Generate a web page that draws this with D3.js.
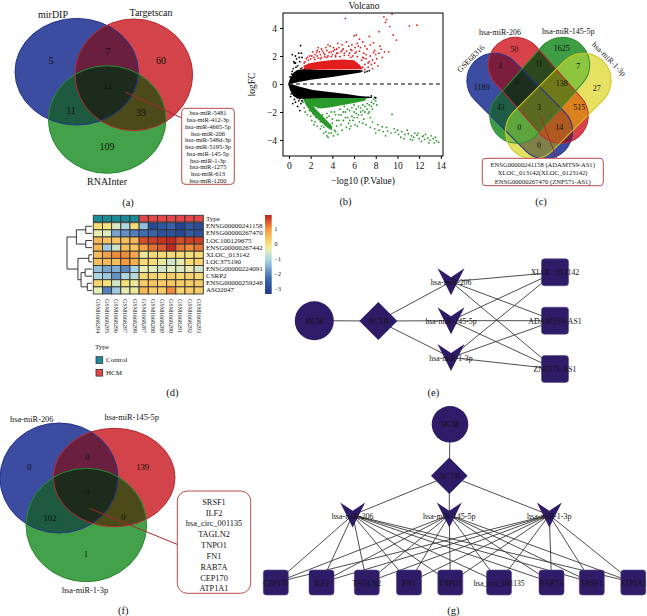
<!DOCTYPE html>
<html><head><meta charset="utf-8">
<script src="https://cdn.jsdelivr.net/npm/d3@7"></script>
<style>body{margin:0;background:#fff}svg{display:block;background:#fff}</style>
</head><body><svg id="c" width="647" height="616"></svg>
<script>
// ---------------- DATA ----------------
// (a) Venn
const vennA_labels = ["mirDIP","Targetscan","RNAInter"];
const vennA_regions = ["A","B","C","AB","BC","AC","ABC"];
const vennA_counts = [5,60,109,7,39,11,11];
const vennA_list = ["hsa-miR-5481","hsa-miR-412-3p","hsa-miR-4665-5p","hsa-miR-206","hsa-miR-548d-3p","hsa-miR-5195-3p","hsa-miR-145-5p","hsa-miR-1-3p","hsa-miR-1275","hsa-miR-613","hsa-miR-1200"];
// (b) Volcano: scattered points [-log10 P, logFC]
const volcanoRed = [[5.2,4.69],[8.75,4.8],[9.0,4.6],[9.5,5.0],[11.1,4.14],[11.8,4.2],[9.9,3.14],[8.3,3.74],[9.3,4.1],[6.0,3.43],[7.8,2.95],[8.5,2.48],[8.8,2.3],[2.55,2.26],[7.2,2.5],[7.5,2.8],[6.6,2.6],[6.3,2.9],[5.8,2.4],[5.5,2.7],[5.0,2.5],[4.6,2.6],[4.2,2.45],[3.9,2.3],[3.5,2.4],[3.2,2.2],[2.9,2.1],[2.6,2.0],[2.3,1.9],[2.0,1.8],[1.8,1.7],[1.5,1.6],[1.4,1.3],[6.9,2.2],[7.1,1.8],[7.4,1.6],[7.6,1.4],[7.3,1.2],[7.0,1.4],[6.8,1.9],[6.2,2.3],[5.6,2.2],[4.8,2.3],[4.4,2.2],[4.0,2.1],[3.6,2.0],[3.3,1.95],[3.0,1.9],[2.7,1.85],[8.0,2.1],[7.9,2.4],[4.5,2.9],[5.3,3.0],[3.8,2.7],[6.5,3.2],[3.0,2.5],[2.2,2.3],[1.9,2.0],[1.7,1.9],[5.9,1.3],[6.4,1.2],[7.7,1.1],[8.2,1.3],[8.4,2.7],[9.6,3.5],[8.9,4.4],[7.4,3.4],[6.8,3.0],[6.2,3.5],[9.2,2.3],[5.1,2.2],[4.1,2.6],[3.4,2.6],[2.4,2.1],[6.1,2.6],[7.0,2.7],[5.7,1.9],[4.3,1.95],[2.8,2.3],[1.6,1.2],[3.7,1.5],[5.4,1.6],
 [2.1,2.0],[2.4,1.75],[2.6,2.4],[2.9,1.8],[3.1,2.35],[3.3,2.1],[3.5,1.9],[3.7,2.25],[3.9,1.95],[4.1,2.35],[4.3,2.05],[4.5,2.2],[4.7,1.95],[4.9,2.4],[5.1,2.05],[5.3,2.35],[5.5,2.05],[5.7,2.45],[5.9,2.0],[6.1,2.2],[6.3,1.95],[6.5,2.35],[6.7,1.7],[6.9,1.85],[7.1,2.1],[7.3,1.5],[7.5,2.0],[7.7,1.7],[7.9,1.5],[8.1,1.8],[8.3,2.2],[8.6,1.9],[2.0,1.1],[2.5,1.15],[3.2,1.1],[4.6,1.1],[5.6,1.15],[6.8,1.2],[7.0,1.05],[1.4,1.5],[1.6,1.8],[1.8,1.4],[1.2,1.15],[3.6,2.8],[4.9,2.8],[5.8,2.8],[2.7,2.6],[7.8,2.25],[6.4,2.7],[4.4,2.5]];
const volcanoGreen = [[1.3,-1.3],[1.5,-2.0],[1.7,-2.2],[1.9,-1.9],[2.1,-2.6],[2.4,-2.7],[2.6,-2.2],[2.8,-2.5],[3.0,-3.0],[3.2,-3.1],[3.4,-3.4],[3.7,-3.5],[3.9,-3.5],[4.2,-3.3],[4.4,-3.0],[4.6,-2.6],[4.8,-2.2],[5.0,-2.6],[5.2,-2.0],[5.4,-2.4],[5.6,-1.9],[5.8,-2.3],[6.0,-2.0],[6.2,-1.8],[6.4,-2.2],[6.6,-1.7],[6.8,-1.9],[7.0,-1.6],[7.2,-1.8],[7.4,-1.5],[7.6,-1.3],[7.8,-1.4],[8.0,-1.2],[7.3,-2.1],[6.9,-2.5],[6.5,-2.7],[6.1,-2.9],[5.7,-3.0],[5.3,-3.1],[4.9,-3.3],[4.5,-3.6],[4.1,-3.7],[3.5,-3.7],[2.9,-3.2],[2.3,-2.9],[4.7,-1.8],[4.3,-2.2],[3.9,-2.0],[3.5,-2.4],[3.1,-2.2],[2.7,-1.7],[2.0,-2.3],[5.9,-2.6],[6.3,-2.4],[7.5,-2.4],[7.1,-2.9],[9.5,-2.17],[8.6,-3.05],[7.5,-3.1],[7.9,-3.2],[8.3,-3.3],[8.7,-3.4],[9.1,-3.35],[9.4,-3.5],[9.8,-3.45],[10.1,-3.6],[10.4,-3.4],[10.7,-3.6],[11.0,-3.55],[11.3,-3.7],[11.5,-3.8],[11.8,-3.65],[12.0,-3.9],[12.3,-3.75],[12.5,-3.95],[12.8,-3.85],[13.0,-4.0],[13.3,-3.9],[13.6,-4.05],[13.8,-4.15],[13.4,-4.2],[12.6,-3.6],[11.9,-3.5],[10.9,-3.3],[9.7,-3.2],[8.9,-3.7],[10.3,-3.8],[11.2,-3.95],[12.2,-4.1],[13.1,-3.7],[5.5,-2.8],[6.7,-2.2],[4.0,-2.8],[3.3,-2.7],[2.5,-2.0],[5.1,-1.6],[6.0,-1.5],[7.7,-1.8],
 [1.6,-1.3],[1.8,-1.6],[2.0,-1.9],[2.2,-2.1],[2.5,-2.4],[2.7,-2.1],[2.9,-2.7],[3.1,-2.5],[3.3,-2.9],[3.5,-2.1],[3.7,-2.3],[3.8,-2.9],[4.0,-2.5],[4.2,-2.0],[4.4,-2.6],[4.6,-2.2],[4.8,-2.9],[5.0,-2.0],[5.2,-2.4],[5.4,-1.8],[5.6,-2.6],[5.8,-1.7],[6.0,-2.4],[6.2,-2.1],[6.4,-1.6],[6.6,-2.0],[6.8,-1.5],[7.0,-2.0],[7.2,-1.4],[7.4,-2.0],[7.6,-1.6],[7.8,-1.1],[8.1,-1.5],[1.4,-1.7],[1.2,-1.2],[3.6,-3.8],[4.3,-3.4],[3.2,-3.5],[2.6,-3.0],[5.6,-3.2],[6.3,-3.0],[6.8,-2.8],[7.7,-2.7],[8.2,-2.9],[8.0,-3.5],[9.0,-3.1],[10.0,-3.3],[10.6,-3.9],[11.6,-3.5],[12.9,-4.2],[13.5,-3.8],[11.4,-4.0],[12.4,-3.7]];
const volcanoBlack = [[0.5,1.5],[0.7,1.8],[0.9,2.2],[1.07,2.74],[0.6,2.0],[0.8,1.3],[1.0,1.6],[1.2,1.9],[0.4,1.1],[0.3,0.9],[0.6,-1.3],[0.8,-1.6],[1.0,-1.9],[1.1,-1.4],[0.5,-1.1],[0.9,-1.2],[1.2,-1.2],[0.2,-0.7],[0.1,0.5],[0.7,0.9],[7.2,0.9],[7.4,0.95],[7.9,-0.95],[8.0,-1.0],[0.3,2.1],[0.15,-0.9],[0.35,-1.4],
 [0.2,0.3],[0.3,-0.4],[0.45,0.6],[0.55,-0.7],[0.65,1.2],[0.75,-0.95],[0.9,0.95],[1.0,-1.05],[1.1,1.1],[0.4,-0.5],[0.25,0.7],[1.5,0.95],[2.0,0.98],[7.0,0.85],[7.6,-0.85],[7.3,-0.95],[0.6,1.5],[0.95,1.9],[1.15,2.2],[0.45,1.6]];
// dense regions (outlines of the saturated point clouds)
const volcanoBlackUpper = [[-0.08,0],[0.1,0.4],[0.4,0.8],[0.8,1.0],[1.3,1.05],[3,1.0],[5,1.0],[6.5,1.0],[6.9,0.95],[6.6,0.82],[5,0.62],[3.8,0.48],[2,0.3],[0.8,0.13],[0.3,0.04]];
const volcanoBlackLower = [[-0.08,0],[0.1,-0.45],[0.4,-0.85],[0.8,-1.05],[1.3,-1.05],[3,-1.0],[5,-1.0],[6.5,-1.0],[7.6,-1.0],[7.7,-0.92],[6.5,-0.86],[5.3,-0.71],[2.2,-0.43],[1,-0.2],[0.4,-0.06]];
const volcanoRedCore = [[1.3,1.02],[1.5,1.35],[2.0,1.5],[3.0,1.62],[4.0,1.72],[5.0,1.75],[6.0,1.7],[6.5,1.4],[6.8,1.05]];
const volcanoGreenArm = [[1.25,-1.0],[1.6,-1.55],[2.3,-2.25],[3.0,-2.75],[3.6,-3.15],[3.95,-3.3],[4.0,-3.05],[3.6,-2.7],[2.8,-2.05],[2.2,-1.55],[1.75,-1.0]];
const volcanoGreenBand = [[1.4,-1.0],[7.2,-1.0],[7.0,-1.2],[6.0,-1.35],[5.0,-1.5],[4.0,-1.65],[3.0,-1.75],[2.0,-1.55]];
const volcanoXTicks = [0,2,4,6,8,10,12,14];
const volcanoYTicks = [-4,-2,0,2,4];
// (c) 4-set Venn
const vennC_labels = ["GSE68316","hsa-miR-206","hsa-miR-145-5p","hsa-miR-1-3p"];
const vennC_regions = ["B","C","AB","BC","CD","A","ABC","BCD","D","AC","ABCD","BD","ACD","ABD","AD"];
const vennC_counts = [50,1625,4,11,7,1189,0,138,27,43,3,515,0,14,0];
const vennC_list = ["ENSG00000241158 (ADAMTS9-AS1)","XLOC_013142(XLOC_0123142)","ENSG00000267470 (ZNF571-AS1)"];
// (d) heatmap
const heatRows = ["ENSG00000241158","ENSG00000267470","LOC100129675","ENSG00000267442","XLOC_013142","LOC375190","ENSG00000224091","CSRP2","ENSG00000259248","ASO2047"];
const heatCols = ["GSM1668294","GSM1668295","GSM1668296","GSM1668297","GSM1668298","GSM1668287","GSM1668288","GSM1668289","GSM1668290","GSM1668291","GSM1668292","GSM1668293"];
const heatTypes = ["Control","Control","Control","Control","Control","HCM","HCM","HCM","HCM","HCM","HCM","HCM"];
const heatValues = [
 [0.1,0.0,-0.5,-1.0,0.1,-1.3,-3.0,-2.7,-2.5,-3.1,-2.7,-2.9],
 [-0.3,-0.5,-1.6,-1.8,-2.0,-2.2,-2.4,-2.8,-2.8,-3.0,-2.6,-2.8],
 [0.6,0.45,0.4,0.5,0.6,1.6,1.7,1.8,1.9,1.6,1.7,1.7],
 [0.6,-1.2,-0.6,0.5,0.4,0.9,1.3,1.5,1.9,1.3,1.1,1.3],
 [0.5,0.9,1.1,1.1,0.8,-0.2,0.1,0.1,0.1,0.1,0.0,0.1],
 [0.5,0.6,0.5,1.0,0.7,0.1,0.1,-0.2,-0.6,-0.3,0.1,0.2],
 [-1.3,-1.6,-1.5,-1.9,-1.1,-0.3,-0.4,-0.6,-0.4,-0.5,-0.3,-0.6],
 [-1.0,-1.2,-1.8,-1.0,-0.9,0.1,0.2,0.1,0.3,0.1,0.2,0.1],
 [0.2,0.0,-0.6,0.0,-0.2,0.3,0.4,0.3,0.4,0.3,0.3,0.3],
 [-0.4,-2.0,-1.2,-0.3,-0.2,0.6,0.3,0.3,1.1,0.2,0.3,0.3]];
const heatLegendTicks = [1,0,-1,-2,-3];
// row dendrogram merges: [left, right, height]; leaves 0..9, merges 10..
const heatMerges = [[0,1,2],[2,3,2],[10,11,5],[4,5,1],[6,7,2.2],[8,9,1.5],[14,15,3.5],[13,16,4.5],[12,17,8]];
// (e) network
const netE_nodes = [["HCM","circle"],["ACTB","diamond"],["hsa-miR-206","vee"],["hsa-miR-145-5p","vee"],["hsa-miR-1-3p","vee"],["XLOC_013142","square"],["ADAMTS9-AS1","square"],["ZNF571-AS1","square"]];
const netE_edges = [["HCM","ACTB"],["ACTB","hsa-miR-206"],["ACTB","hsa-miR-145-5p"],["ACTB","hsa-miR-1-3p"],
 ["hsa-miR-206","XLOC_013142"],["hsa-miR-206","ADAMTS9-AS1"],["hsa-miR-206","ZNF571-AS1"],
 ["hsa-miR-145-5p","XLOC_013142"],["hsa-miR-145-5p","ADAMTS9-AS1"],["hsa-miR-145-5p","ZNF571-AS1"],
 ["hsa-miR-1-3p","XLOC_013142"],["hsa-miR-1-3p","ADAMTS9-AS1"],["hsa-miR-1-3p","ZNF571-AS1"]];
// (f) Venn
const vennF_labels = ["hsa-miR-206","hsa-miR-145-5p","hsa-miR-1-3p"];
const vennF_regions = ["A","AB","B","ABC","AC","BC","C"];
const vennF_counts = [0,0,139,9,102,0,1];
const vennF_list = ["SRSF1","ILF2","hsa_circ_001135","TAGLN2","TNPO1","FN1","RAB7A","CEP170","ATP1A1"];
// (g) network
const netG_mirs = ["hsa-miR-206","hsa-miR-145-5p","hsa-miR-1-3p"];
const netG_targets = ["CEP170","ILF2","TAGLN2","FN1","TNPO1","hsa_circ_001135","RAB7A","SRSF1","ATP1A1"];

// ---------------- LAYOUT / STYLE ----------------
const svg = d3.select("#c");
const SERIF = "'Liberation Serif','Times New Roman',serif";
const defs = svg.append("defs");
function T(parent, x, y, s, size, o = {}) {
  return parent.append("text").attr("x", x).attr("y", y).text(s)
    .attr("font-family", SERIF).attr("font-size", size)
    .attr("text-anchor", o.anchor || "middle").attr("dominant-baseline", o.base || "central")
    .attr("fill", o.fill || "#111");
}
function shapeEl(parent, s) {
  if (s.kind === "ellipse") return parent.append("ellipse").attr("cx", s.cx).attr("cy", s.cy).attr("rx", s.rx).attr("ry", s.ry);
  return parent.append("rect").attr("x", -s.len / 2).attr("y", -s.wid / 2).attr("width", s.len).attr("height", s.wid)
    .attr("rx", s.wid / 2).attr("ry", s.wid / 2).attr("transform", `translate(${s.cx},${s.cy}) rotate(${s.angle})`);
}
function drawVenn(id, shapes, colors, strokes) {
  shapes.forEach((s, i) => { const cp = defs.append("clipPath").attr("id", `${id}c${i}`); shapeEl(cp, s); });
  const g = svg.append("g");
  Object.keys(colors).sort((a, b) => a.length - b.length).forEach(k => {
    const idx = k.split("").map(c => "ABCD".indexOf(c));
    let gg = g;
    idx.slice(0, -1).forEach(i => gg = gg.append("g").attr("clip-path", `url(#${id}c${i})`));
    shapeEl(gg, shapes[idx[idx.length - 1]]).attr("fill", colors[k]);
  });
  shapes.forEach((s, i) => shapeEl(g, s).attr("fill", "none").attr("stroke", strokes[i]).attr("stroke-width", 1));
  return g;
}
const col3 = {A:"#3c4ca0",B:"#d2444a",C:"#43a14a",AB:"#6a1f3e",BC:"#4b4a18",AC:"#1d5a40",ABC:"#1c2b1c"};
const str3 = ["#27358a","#b82a30","#2c8a34"];

// ===== (a) =====
const gA = drawVenn("va", [
  {kind:"ellipse",cx:76.7,cy:71.7,rx:61.7,ry:53.3},
  {kind:"ellipse",cx:133.8,cy:74.8,rx:58.8,ry:55.8},
  {kind:"ellipse",cx:107.2,cy:119.5,rx:58.8,ry:53.8}], col3, str3);
const posA = {A:[51,60],B:[161,60],C:[107,146],AB:[108,51],BC:[141,112],AC:[71,110],ABC:[108,85]};
vennA_regions.forEach((r, i) => T(gA, posA[r][0], posA[r][1], vennA_counts[i], 10));
[[53,14],[151,12.5],[107,181]].forEach((p, i) => T(gA, p[0], p[1], vennA_labels[i], 10));
gA.append("line").attr("x1",125).attr("y1",92).attr("x2",182).attr("y2",118).attr("stroke","#a32a2e").attr("stroke-width",1);
gA.append("rect").attr("x",181.7).attr("y",108.3).attr("width",52.6).attr("height",76).attr("rx",3.5)
  .attr("fill","#fff").attr("stroke","#b84a4a").attr("stroke-width",1);
vennA_list.forEach((s, i) => T(gA, 208, 112.8 + i * 6.77, s, 6.5));

// ===== (b) volcano =====
const gB = svg.append("g");
const vx = d3.scaleLinear().domain([-0.55, 14.2]).range([283, 443]);
const vy = d3.scaleLinear().domain([-5.14, 5.07]).range([156, 13]);
defs.append("clipPath").attr("id","vclip").append("rect").attr("x",283).attr("y",13).attr("width",160).attr("height",143);
const pg = gB.append("g").attr("clip-path","url(#vclip)");
const line = d3.line().x(d => vx(d[0])).y(d => vy(d[1])).curve(d3.curveLinearClosed);
pg.append("path").attr("d", line(volcanoRedCore)).attr("fill","#e11d1d");
pg.append("path").attr("d", line(volcanoGreenBand)).attr("fill","#2a9a2a");
pg.append("path").attr("d", line(volcanoGreenArm)).attr("fill","#2a9a2a");
const dot = (arr, c) => pg.append("g").selectAll("circle").data(arr).join("circle")
  .attr("cx", d => vx(d[0])).attr("cy", d => vy(d[1])).attr("r", 0.9).attr("fill", c);
dot(volcanoRed, "#e11d1d"); dot(volcanoGreen, "#2a9a2a");
pg.append("path").attr("d", line(volcanoBlackUpper)).attr("fill","#000");
pg.append("path").attr("d", line(volcanoBlackLower)).attr("fill","#000");
dot(volcanoBlack, "#000");
pg.append("line").attr("x1", vx(0)).attr("x2", 443).attr("y1", vy(0)).attr("y2", vy(0))
  .attr("stroke","#000").attr("stroke-width",1).attr("stroke-dasharray","4,3");
gB.append("rect").attr("x",283).attr("y",13).attr("width",160).attr("height",143).attr("fill","none").attr("stroke","#000").attr("stroke-width",1);
const ax = gB.append("g").attr("transform","translate(0,156)").call(d3.axisBottom(vx).tickValues(volcanoXTicks).tickSize(3).tickPadding(3));
const ay = gB.append("g").attr("transform","translate(283,0)").call(d3.axisLeft(vy).tickValues(volcanoYTicks).tickSize(3).tickPadding(3));
[ax, ay].forEach(a => { a.select(".domain").remove(); a.selectAll("text").attr("font-family", SERIF).attr("font-size", 9.5).attr("fill","#111"); });
T(gB, 364, 5.5, "Volcano", 9.5);
T(gB, 363, 180.5, "\u2212log10 (P.Value)", 9.5);
T(gB, 0, 0, "logFC", 9.5).attr("transform", "translate(251.5,84.5) rotate(-90)").attr("x",0).attr("y",0);

// ===== (c) 4-set venn =====
const colC = {A:"#3b4ca1",B:"#d8434b",C:"#3e9d45",D:"#e6e063",AB:"#7b1e3e",AC:"#1f5c46",AD:"#7f7f48",BC:"#2c471c",BD:"#dc811f",CD:"#8ec53e",
  ABC:"#1c2f1e",ABD:"#b05a22",ACD:"#5da53c",BCD:"#6e7a1a",ABCD:"#5a6a20"};
const gC = drawVenn("vc", [
  {kind:"cap",cx:519.7,cy:106,len:126.7,wid:55,angle:45},
  {kind:"cap",cx:538.3,cy:90.3,len:123,wid:54.7,angle:48.5},
  {kind:"cap",cx:539.7,cy:90.3,len:123,wid:54.7,angle:-48.5},
  {kind:"cap",cx:558.3,cy:106,len:126.7,wid:55,angle:-45}], colC, ["#26338c","#c02632","#2e8a36","#cfc61f"]);
const posC = {B:[514.3,49],C:[561.7,48.3],AB:[500,66.7],BC:[539,63.3],CD:[578.3,66],A:[481.7,87.3],ABC:[516.7,82.7],BCD:[561.7,83.3],D:[596.7,88.3],
  AC:[500.7,107.3],ABCD:[539,107.3],BD:[579.3,107.3],ACD:[519.3,127],ABD:[559.3,127.3],AD:[539,145]};
vennC_regions.forEach((r, i) => T(gC, posC[r][0], posC[r][1], vennC_counts[i], 8));
T(gC, 0, 0, vennC_labels[0], 8).attr("transform","translate(471,58.5) rotate(-45)");
T(gC, 500, 32.5, vennC_labels[1], 8);
T(gC, 568.3, 31, vennC_labels[2], 8);
T(gC, 0, 0, vennC_labels[3], 8).attr("transform","translate(609,59) rotate(45)");
gC.append("line").attr("x1",540).attr("y1",115).attr("x2",556.7).attr("y2",158.3).attr("stroke","#a32a2e").attr("stroke-width",1);
gC.append("rect").attr("x",482.3).attr("y",158.3).attr("width",121).attr("height",27.4).attr("rx",3.5)
  .attr("fill","#fff").attr("stroke","#b84a4a").attr("stroke-width",1);
vennC_list.forEach((s, i) => T(gC, 542.7, 164.5 + i * 8.3, s, 6.6));

// ===== (d) heatmap =====
const gD = svg.append("g");
const hx = d3.scaleBand().domain(heatCols).range([93.3, 203.3]);
const hy = d3.scaleBand().domain(heatRows).range([222.7, 294]);
const hColor = d3.scaleLinear().domain([-3.3,-2.2,-1.1,-0.35,0,1,1.95])
  .range(["#1f3a8c","#3f6eb2","#a8d2e6","#e6efb6","#f7e27a","#f69a3e","#c11f1d"]);
const typeColor = {Control:"#1a8c98", HCM:"#e4474a"};
gD.selectAll("rect.t").data(heatCols).join("rect").attr("x", d => hx(d)).attr("y", 215.3).attr("width", hx.bandwidth()).attr("height", 6.7)
  .attr("fill", (d, i) => typeColor[heatTypes[i]]).attr("stroke","#333").attr("stroke-width",0.9);
heatRows.forEach((r, ri) => {
  gD.append("g").selectAll("rect").data(heatValues[ri]).join("rect")
    .attr("x", (d, ci) => hx(heatCols[ci])).attr("y", hy(r)).attr("width", hx.bandwidth()).attr("height", hy.bandwidth())
    .attr("fill", d => hColor(d)).attr("stroke","#333").attr("stroke-width",0.9);
  T(gD, 206, hy(r) + hy.bandwidth() / 2, r, 7, {anchor:"start"});
});
T(gD, 206, 218.6, "Type", 7, {anchor:"start"});
heatCols.forEach(c => T(gD, 0, 0, c, 6, {anchor:"start"}).attr("transform", `translate(${hx(c) + hx.bandwidth() / 2},299) rotate(90)`));
// dendrogram
const dh = d3.scaleLinear().domain([0, 8]).range([92, 67]);
const nodeY = heatRows.map(r => hy(r) + hy.bandwidth() / 2), nodeH = heatRows.map(() => 0);
heatMerges.forEach(([a, b, h]) => {
  const xa = dh(nodeH[a]), xb = dh(nodeH[b]), xh = dh(h);
  gD.append("path").attr("d", `M${xa},${nodeY[a]}H${xh}V${nodeY[b]}H${xb}`).attr("fill","none").attr("stroke","#222").attr("stroke-width",0.9);
  nodeY.push((nodeY[a] + nodeY[b]) / 2); nodeH.push(h);
});
// legend bar
const lg = defs.append("linearGradient").attr("id","hgrad").attr("x1",0).attr("y1",0).attr("x2",0).attr("y2",1);
const ly = d3.scaleLinear().domain([1.95, -3.3]).range([215, 294]);
d3.range(0, 21).forEach(i => { const v = 1.95 - i * 5.25 / 20; lg.append("stop").attr("offset", i / 20).attr("stop-color", hColor(v)); });
gD.append("rect").attr("x",265).attr("y",215).attr("width",6.7).attr("height",79).attr("fill","url(#hgrad)");
heatLegendTicks.forEach(t => T(gD, 274.5, ly(t), d3.format("")(t).replace("-", "\u2212"), 6, {anchor:"start"}));
T(gD, 95, 347, "Type", 7, {anchor:"start"});
[["Control",360],["HCM",372.7]].forEach(([k, y]) => {
  gD.append("rect").attr("x",96).attr("y",y - 3.3).attr("width",6.7).attr("height",6.7).attr("fill",typeColor[k]).attr("stroke","#333").attr("stroke-width",0.8);
  T(gD, 106, y, k, 7, {anchor:"start"});
});

// ===== networks =====
const NODE = "#2f1c69";
function vee(s) { const h = s / 2; return `M${-h},${-h}L0,${-h / 3}L${h},${-h}L0,${h}Z`; }
function drawNet(nodes, edges, pos, sz, fs) {
  const g = svg.append("g");
  const P = Object.fromEntries(nodes.map(([id]) => [id, pos[id]]));
  g.selectAll("line").data(edges).join("line")
    .attr("x1", d => P[d[0]][0]).attr("y1", d => P[d[0]][1]).attr("x2", d => P[d[1]][0]).attr("y2", d => P[d[1]][1])
    .attr("stroke","#3a3a3a").attr("stroke-width",0.9);
  nodes.forEach(([id, kind]) => {
    const [x, y] = P[id]; const s = sz[kind];
    if (kind === "circle") g.append("circle").attr("cx", x).attr("cy", y).attr("r", s).attr("fill", NODE);
    else if (kind === "diamond") g.append("path").attr("d", `M${x},${y - s}L${x + s},${y}L${x},${y + s}L${x - s},${y}Z`).attr("fill", NODE);
    else if (kind === "vee") g.append("path").attr("d", vee(s)).attr("transform", `translate(${x},${y})`).attr("fill", NODE);
    else g.append("rect").attr("x", x - s / 2).attr("y", y - s / 2).attr("width", s).attr("height", s).attr("rx", 3).attr("fill", NODE).attr("stroke","#5a4a8a").attr("stroke-width",0.6);
  });
  nodes.forEach(([id, kind]) => T(g, P[id][0], P[id][1] + (kind === "vee" ? 1 : 0.5), id, kind === "square" ? fs[1] : fs[0], {fill:"#111"}));
  return g;
}
// (e)
drawNet(netE_nodes, netE_edges, {
  "HCM":[314.3,320.7],"ACTB":[378.3,321],"hsa-miR-206":[451,281.7],"hsa-miR-145-5p":[451,320.7],"hsa-miR-1-3p":[451,357.5],
  "XLOC_013142":[555,272.3],"ADAMTS9-AS1":[555,320.7],"ZNF571-AS1":[555,369]
}, {circle:19.5, diamond:19, vee:27, square:27}, [7.8, 7.8]);
// (g)
const gNodes = [["HCM","circle"],["ACTB","diamond"], ...netG_mirs.map(m => [m, "vee"]), ...netG_targets.map(t => [t, "square"])];
const gEdges = [["HCM","ACTB"], ...netG_mirs.map(m => ["ACTB", m]), ...netG_mirs.flatMap(m => netG_targets.map(t => [m, t]))];
const gx = [275.8,321.5,366.8,409,450.3,499,551.5,591.8,633.3];
const gPos = {"HCM":[450,424.3],"ACTB":[449.3,475.7],"hsa-miR-206":[352.7,515],"hsa-miR-145-5p":[449.3,515],"hsa-miR-1-3p":[549.3,515]};
netG_targets.forEach((t, i) => gPos[t] = [gx[i], 582.5]);
drawNet(gNodes, gEdges, gPos, {circle:18.3, diamond:18.3, vee:25, square:25}, [8, 7.5]);

// ===== (f) =====
const gF = drawVenn("vf", [
  {kind:"ellipse",cx:59,cy:478,rx:59,ry:55},
  {kind:"ellipse",cx:114.2,cy:477.5,rx:60.8,ry:49.2},
  {kind:"ellipse",cx:86.3,cy:525,rx:60.3,ry:56.7}], col3, str3);
const posF = {A:[29.3,466.7],AB:[87.3,456.7],B:[142.7,466.7],ABC:[87.3,492],AC:[50,517.7],BC:[123.3,516.7],C:[86,554]};
vennF_regions.forEach((r, i) => T(gF, posF[r][0], posF[r][1], vennF_counts[i], 8.7));
[[31.7,419.3],[131.7,417.7],[85,590.7]].forEach((p, i) => T(gF, p[0], p[1], vennF_labels[i], 8.3));
gF.append("line").attr("x1",89.3).attr("y1",508.3).attr("x2",186.7).attr("y2",548.3).attr("stroke","#a32a2e").attr("stroke-width",1);
gF.append("rect").attr("x",177.3).attr("y",491).attr("width",73.4).attr("height",102.3).attr("rx",10)
  .attr("fill","#fff").attr("stroke","#b84a4a").attr("stroke-width",1);
vennF_list.forEach((s, i) => T(gF, 214, 502.3 + i * 10.83, s, 8.3));

// ===== panel labels =====
[["(a)",128,202],["(b)",345.5,201.5],["(c)",541,201.5],["(d)",172.3,392.7],["(e)",433.3,392.7],["(f)",123.3,610],["(g)",453.3,610]]
  .forEach(([s, x, y]) => T(svg, x, y, s, 10.5));
</script></body></html>
